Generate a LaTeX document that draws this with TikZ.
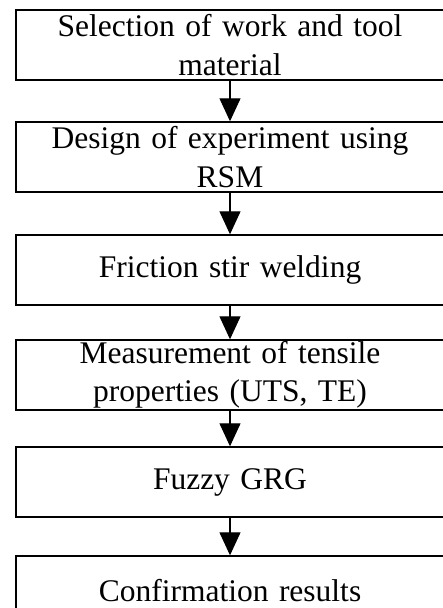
\documentclass[tikz,border=0pt]{standalone}
\usepackage{fontspec}
\setmainfont{Liberation Serif}
\usepackage{tikz}
\usetikzlibrary{arrows.meta}

\begin{document}
\begin{tikzpicture}[x=1pt, y=-1pt,
    stepbox/.style={draw, line width=1.4pt, minimum width=428pt, minimum height=70pt,
        inner sep=0pt, text width=420pt, align=center,
        font=\fontsize{31.5}{38.5}\selectfont},
    flow/.style={line width=1.2pt, -{Triangle[width=21pt,length=23pt]}}]
    \useasboundingbox (0,0) rectangle (443,608);

    \node[stepbox] (sel)  at (230,45)  {Selection of work and tool\\material};
    \node[stepbox] (doe)  at (230,157) {Design of experiment using\\RSM};
    \node[stepbox] (fsw)  at (230,270) {Friction stir welding};
    \node[stepbox] (meas) at (230,375) {Measurement of tensile\\properties (UTS, TE)};
    \node[stepbox] (fgrg) at (230,482) {Fuzzy GRG};
    \node[stepbox] (conf) at (230,591) {Confirmation results};

    \draw[flow] (sel)  -- (doe);
    \draw[flow] (doe)  -- (fsw);
    \draw[flow] (fsw)  -- (meas);
    \draw[flow] (meas) -- (fgrg);
    \draw[flow] (fgrg) -- (conf);
\end{tikzpicture}
\end{document}
